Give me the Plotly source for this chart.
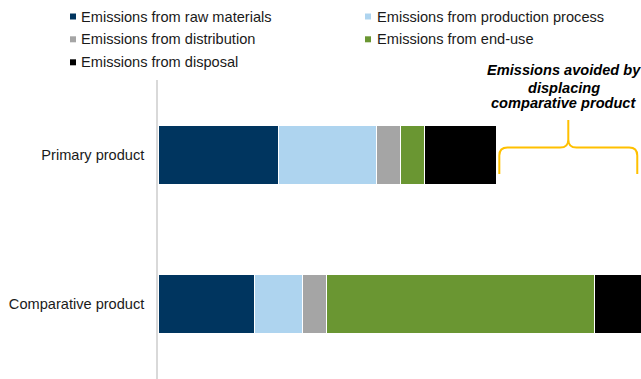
import plotly.graph_objects as go

# ---- data ----
products = ["Primary product", "Comparative product"]
series_names = [
    "Emissions from raw materials",
    "Emissions from production process",
    "Emissions from distribution",
    "Emissions from end-use",
    "Emissions from disposal",
]
raw_materials = [35.6, 28.4]
production = [28.8, 14.3]
distribution = [7.1, 7.1]
end_use = [7.2, 79.1]
disposal = [21.3, 21.3]
series_values = [raw_materials, production, distribution, end_use, disposal]
colors = ["#00355F", "#AED4EF", "#A5A5A5", "#6A9632", "#000000"]

annotation_lines = ["Emissions avoided by", "displacing", "comparative product"]

W, H = 641, 379
ML, MR, MT, MB = 158, 0, 80, 0
X_MAX = 142.5
FONT = "Liberation Sans, Arial, sans-serif"

def px_x(px):
    return (px - ML) / (W - ML - MR)

def px_y(py):
    return (H - MB - py) / (H - MT - MB)

fig = go.Figure()
for name, vals, col in zip(series_names, series_values, colors):
    fig.add_trace(go.Bar(
        y=products, x=vals, name=name, orientation="h",
        marker=dict(color=col, line=dict(color="white", width=1)),
        showlegend=False,
    ))

# ---- manual legend ----
legend_pos = [  # (marker centre px, text start px, row centre py)
    (73.0, 80.0, 16.5), (368.0, 376.5, 16.5),
    (73.0, 80.0, 39.3), (368.0, 376.5, 39.3),
    (73.0, 80.0, 62.3),
]
shapes = []
annotations = []
for idx, (mx, tx, my) in enumerate(legend_pos):
    s = 3.0
    shapes.append(dict(type="rect", xref="paper", yref="paper",
                       x0=px_x(mx - s), x1=px_x(mx + s),
                       y0=px_y(my + s), y1=px_y(my - s),
                       fillcolor=colors[idx], line=dict(width=0)))
    annotations.append(dict(xref="paper", yref="paper", x=px_x(tx - 1.5), y=px_y(my),
                            xanchor="left", yanchor="middle", showarrow=False,
                            text=series_names[idx],
                            font=dict(family=FONT, size=14.6, color="#1a1a1a")))

# ---- avoided-emissions annotation ----
for line, py in zip(annotation_lines, [70.5, 87.5, 103.5]):
    annotations.append(dict(xref="paper", yref="paper", x=px_x(563.5), y=px_y(py),
                            xanchor="center", yanchor="middle", showarrow=False,
                            text="<b><i>" + line + "</i></b>",
                            font=dict(family=FONT, size=14.6, color="#000000")))

# ---- brace ----
primary_total = sum(v[0] for v in series_values)
x0 = primary_total + 0.7
x1 = 141.4
xc = (x0 + x1) / 2
yb, yh, yp = px_y(174), px_y(147.5), px_y(120)
rx = 2.4
ry = 0.027
path = (f"M{x0},{yb} L{x0},{yh - ry} Q{x0},{yh} {x0 + rx},{yh} "
        f"L{xc - rx},{yh} Q{xc},{yh} {xc},{yh + ry} L{xc},{yp} "
        f"M{xc},{yh + ry} Q{xc},{yh} {xc + rx},{yh} "
        f"L{x1 - rx},{yh} Q{x1},{yh} {x1},{yh - ry} L{x1},{yb}")
shapes.append(dict(type="path", xref="x", yref="paper", path=path,
                   line=dict(color="#FFC000", width=2)))

fig.update_layout(
    width=W, height=H,
    margin=dict(l=ML, r=MR, t=MT, b=MB, pad=0),
    barmode="stack", bargap=0.605,
    plot_bgcolor="white", paper_bgcolor="white",
    showlegend=False,
    shapes=shapes, annotations=annotations,
    font=dict(family=FONT, color="#1a1a1a"),
    xaxis=dict(visible=False, range=[0, X_MAX], fixedrange=True),
    yaxis=dict(autorange="reversed", showline=True, linecolor="#D9D9D9", linewidth=1.5,
               showgrid=False, zeroline=False, ticks="", ticklabelstandoff=9,
               tickfont=dict(family=FONT, size=14.6, color="#1a1a1a")),
)

fig.write_html("out.html")
